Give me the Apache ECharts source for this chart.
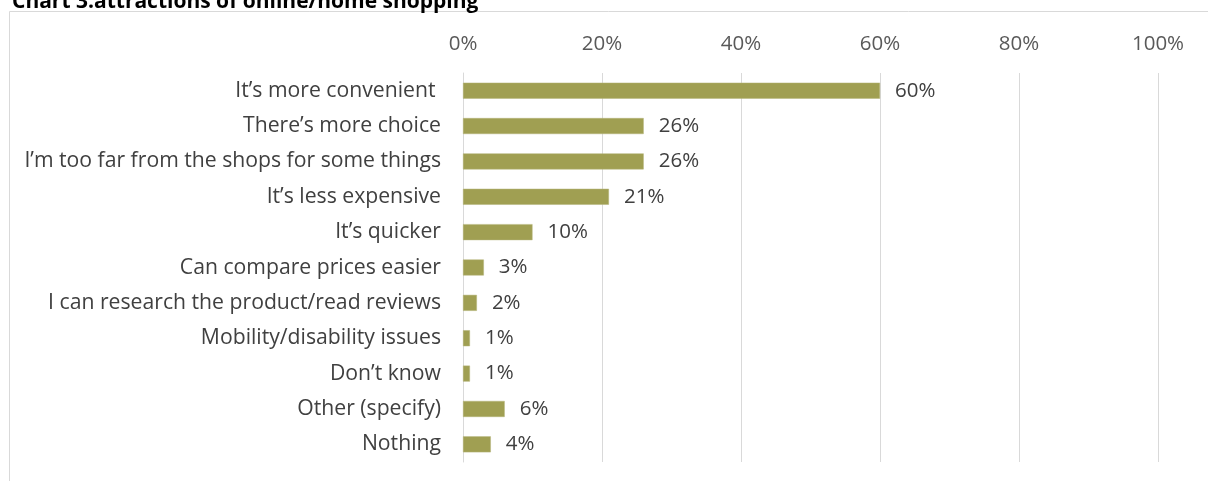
<!DOCTYPE html>
<html>
<head>
<meta charset="utf-8">
<script src="https://cdn.jsdelivr.net/npm/echarts@6/dist/echarts.min.js"></script>
<style>
html,body{margin:0;padding:0;background:#fff;}
#c{width:1208px;height:481px;}
</style>
</head>
<body>
<div id="c"></div>
<script>
const titleText = 'Chart 3:attractions of online/home shopping';
const categories = [
  'It\u2019s more convenient ',
  'There\u2019s more choice',
  'I\u2019m too far from the shops for some things',
  'It\u2019s less expensive',
  'It\u2019s quicker',
  'Can compare prices easier',
  'I can research the product/read reviews',
  'Mobility/disability issues',
  'Don\u2019t know',
  'Other (specify)',
  'Nothing'
];
const values = [60, 26, 26, 21, 10, 3, 2, 1, 1, 6, 4];
const xTicks = [0, 20, 40, 60, 80, 100];

const FONT = '"Open Sans", "Noto Sans", sans-serif';
const chart = echarts.init(document.getElementById('c'), null, {renderer: 'canvas'});
chart.setOption({
  animation: false,
  title: {
    text: titleText,
    left: 12,
    top: -8,
    padding: 0,
    textStyle: {fontFamily: FONT, fontWeight: 'bold', fontSize: 21, color: '#000'}
  },
  graphic: [{
    type: 'polyline',
    shape: {points: [[9.5, 481], [9.5, 11.5], [1208, 11.5]]},
    style: {stroke: '#D9D9D9', lineWidth: 1, fill: null}
  }],
  grid: {left: 463, right: 50, top: 73, bottom: 19, containLabel: false},
  xAxis: {
    type: 'value',
    position: 'top',
    min: 0, max: 100, interval: 20,
    axisLine: {show: false},
    axisTick: {show: false},
    axisLabel: {
      fontFamily: FONT, fontSize: 20.5, color: '#595959', margin: 18,
      formatter: v => xTicks.includes(v) ? v + '%' : ''
    },
    splitLine: {show: true, lineStyle: {color: '#D9D9D9', width: 1}}
  },
  yAxis: {
    type: 'category',
    inverse: true,
    data: categories,
    axisLine: {show: true, lineStyle: {color: '#D9D9D9'}},
    axisTick: {show: false},
    axisLabel: {fontFamily: FONT, fontSize: 21.2, color: '#404040', margin: 22}
  },
  series: [{
    type: 'bar',
    data: values,
    barWidth: 16,
    itemStyle: {color: '#A09F52', borderColor: '#B5B47A', borderWidth: 0.5},
    label: {
      show: true, position: 'right', distance: 15,
      fontFamily: FONT, fontSize: 20.5, color: '#404040',
      formatter: p => p.value + '%'
    }
  }]
});
</script>
</body>
</html>
